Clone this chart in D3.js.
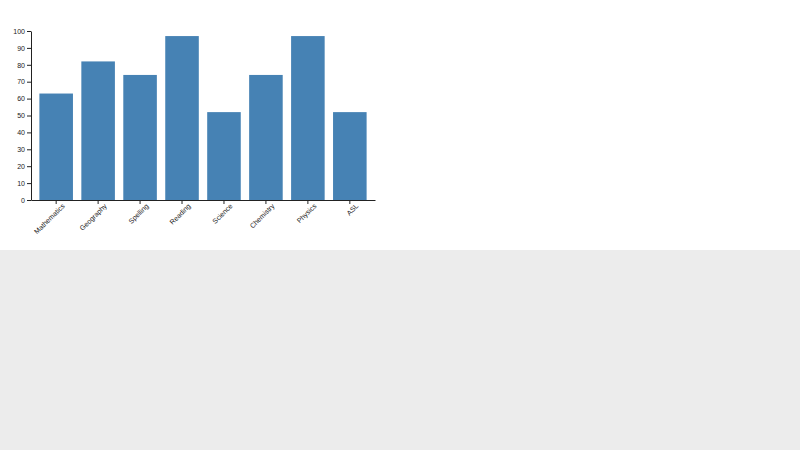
<!DOCTYPE html>
<html>
<head>
<meta charset="utf-8">
<script src="https://cdn.jsdelivr.net/npm/d3@7"></script>
<style>
  body { margin: 0; background: #ececec; }
  #chart { background: #fff; width: 800px; height: 250px; }
  svg { display: block; }
  .axis text { font-family: "Liberation Sans", Arial, sans-serif; font-size: 7px; fill: #222; }
</style>
</head>
<body>
<div id="chart"></div>
<script>
const subjects = ["Mathematics", "Geography", "Spelling", "Reading", "Science", "Chemistry", "Physics", "ASL"];
const scores = [63, 82, 74, 97, 52, 74, 97, 52];
const yTicks = [0, 10, 20, 30, 40, 50, 60, 70, 80, 90, 100];

const margin = {top: 31, right: 25, bottom: 50, left: 31};
const w = 400 - margin.left - margin.right;
const h = 250 - margin.top - margin.bottom;

const svg = d3.select("#chart").append("svg")
  .attr("width", 800)
  .attr("height", 250);

const g = svg.append("g")
  .attr("transform", "translate(" + margin.left + "," + margin.top + ")");

const x = d3.scaleBand()
  .domain(subjects)
  .range([0, w])
  .padding(0.2);

const y = d3.scaleLinear()
  .domain([0, 100])
  .range([h, 0]);

g.selectAll(".bar")
  .data(subjects)
  .enter().append("rect")
  .attr("class", "bar")
  .attr("x", d => x(d))
  .attr("width", x.bandwidth())
  .attr("y", (d, i) => y(scores[i]))
  .attr("height", (d, i) => h - y(scores[i]))
  .attr("fill", "steelblue");

g.append("g")
  .attr("class", "axis")
  .attr("transform", "translate(0," + h + ")")
  .call(d3.axisBottom(x).tickSize(4).tickPadding(2).tickSizeOuter(0))
  .selectAll("text")
  .style("text-anchor", "end")
  .attr("dx", ".25em")
  .attr("dy", ".71em")
  .attr("transform", "rotate(-45)");

g.append("g")
  .attr("class", "axis")
  .call(d3.axisLeft(y).tickValues(yTicks).tickSize(4).tickPadding(2).tickSizeOuter(0));

g.selectAll(".axis path, .axis line").attr("stroke", "#222");
</script>
</body>
</html>
